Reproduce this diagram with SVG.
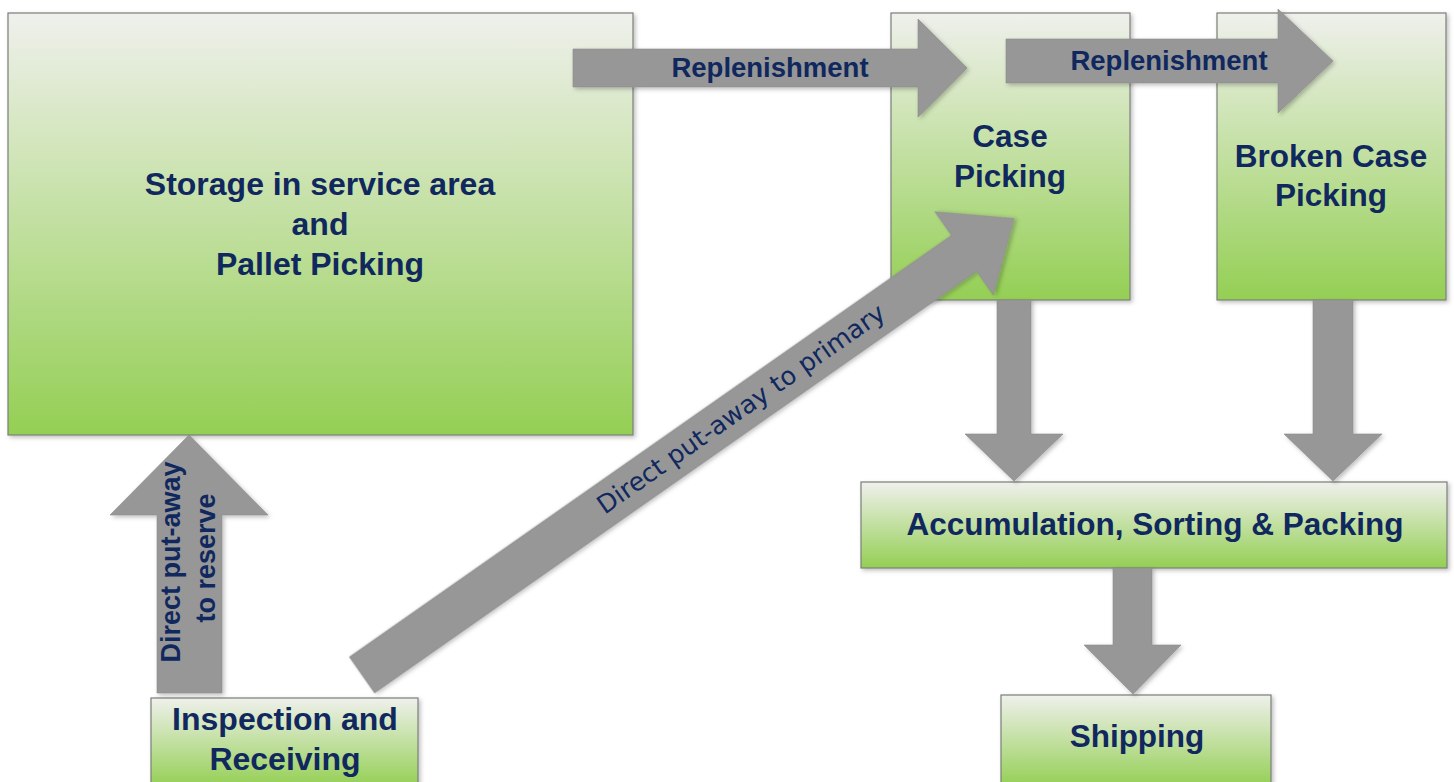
<svg xmlns="http://www.w3.org/2000/svg" width="1454" height="782" viewBox="0 0 1454 782">
<defs>
<linearGradient id="g" x1="0" y1="0" x2="0" y2="1">
<stop offset="0" stop-color="#eff0ec"/>
<stop offset="1" stop-color="#94cf54"/>
</linearGradient>
<filter id="sh" x="-10%" y="-10%" width="120%" height="120%">
<feDropShadow dx="2" dy="2" stdDeviation="2" flood-color="#000" flood-opacity="0.25"/>
</filter>
<style>
.box{fill:url(#g);stroke:#7b7f78;stroke-width:1.2;filter:url(#sh)}
.arr{fill:#979797;stroke:#8a8a8a;stroke-width:0.6;filter:url(#sh)}
.lbl{font-family:"Liberation Sans",Arial,sans-serif;font-weight:bold;font-size:31.5px;fill:#10285e;text-anchor:middle}
.big{font-size:32px}
.rep{font-family:"Liberation Sans",Arial,sans-serif;font-weight:bold;font-size:27.5px;fill:#10285e;text-anchor:middle}
.dia{font-family:"DejaVu Sans",Verdana,sans-serif;font-size:25.5px;fill:#10285e;text-anchor:middle}
.res{font-family:"Liberation Sans",Arial,sans-serif;font-weight:bold;font-size:27px;fill:#10285e;text-anchor:middle}
</style>
</defs>
<rect width="1454" height="782" fill="#ffffff"/>

<g id="storage">
<rect class="box" x="8" y="13" width="625" height="422"/>
<text class="lbl big" x="320" y="195">Storage in service area</text>
<text class="lbl big" x="320" y="235">and</text>
<text class="lbl big" x="320" y="275">Pallet Picking</text>
</g>

<g id="case-picking">
<rect class="box" x="891" y="13" width="239" height="287"/>
<text class="lbl" x="1010" y="147">Case</text>
<text class="lbl" x="1010" y="187">Picking</text>
</g>

<g id="broken-case-picking">
<rect class="box" x="1217" y="13" width="229" height="287"/>
<text class="lbl" x="1331" y="167">Broken Case</text>
<text class="lbl" x="1331" y="206">Picking</text>
</g>

<g id="accumulation">
<rect class="box" x="861" y="482" width="586" height="86"/>
<text class="lbl" x="1155" y="535">Accumulation, Sorting &amp; Packing</text>
</g>

<g id="shipping">
<rect class="box" x="1001" y="695" width="270" height="92"/>
<text class="lbl" x="1137" y="747">Shipping</text>
</g>

<g id="inspection">
<rect class="box" x="151" y="698" width="267" height="89"/>
<text class="lbl big" x="285" y="730">Inspection and</text>
<text class="lbl big" x="285" y="770">Receiving</text>
</g>

<g id="connectors">
<g id="rep1">
<polygon class="arr" points="573,49 918,49 918,19 967,68 918,117 918,87 573,87"/>
<text class="rep" x="770" y="77">Replenishment</text>
</g>
<g id="rep2">
<polygon class="arr" points="1006,39 1278,39 1278,9 1333,61 1278,113 1278,83 1006,83"/>
<text class="rep" x="1169" y="70">Replenishment</text>
</g>
<g id="reserve">
<polygon class="arr" points="157,693 157,515 110,515 189,435 268,515 222,515 222,693"/>
<text class="res" transform="translate(180,562) rotate(-90)">Direct put-away</text>
<text class="res" transform="translate(215,558) rotate(-90)">to reserve</text>
</g>
<g id="primary" transform="translate(362,675) rotate(-35)">
<polygon class="arr" points="0,-22 735,-22 735,-51 796,0 735,51 735,22 0,22"/>
<text class="dia" x="463" y="8">Direct put-away to primary</text>
</g>
<g id="case-to-acc">
<polygon class="arr" points="997,300 1031,300 1031,434 1063,434 1014,481 965,434 997,434"/>
</g>
<g id="broken-to-acc">
<polygon class="arr" points="1313,300 1353,300 1353,434 1382,434 1333,481 1284,434 1313,434"/>
</g>
<g id="acc-to-ship">
<polygon class="arr" points="1113,568 1152,568 1152,645 1181,645 1133,694 1084,645 1113,645"/>
</g>
</g>
</svg>
